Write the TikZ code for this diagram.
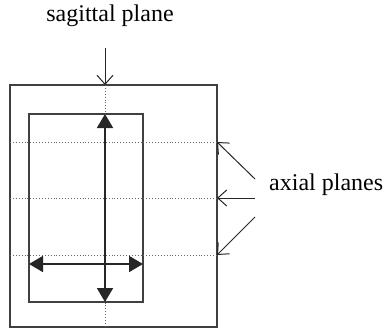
\documentclass[tikz,border=0pt]{standalone}
\usepackage{fontspec}
\setmainfont{Liberation Serif}
\usetikzlibrary{arrows.meta}
\begin{document}
\begin{tikzpicture}[x=1pt,y=-1pt,
  frame/.style={draw=black!75,line width=1.3pt},
  plane/.style={draw=black!60,line width=0.9pt,dotted},
  dbl/.style={draw=black!85,line width=1.8pt,{Triangle[length=14pt,width=16pt]}-{Triangle[length=14pt,width=16pt]}},
  pointer/.style={draw=black!85,line width=1pt,-{Straight Barb[length=9pt,width=16pt]}},
  lbl/.style={font=\fontsize{24}{28}\selectfont,inner sep=0pt}]
\useasboundingbox (0,0) rectangle (390,329);
% outer and inner frames
\draw[frame] (10,85) rectangle (217,327);
\draw[frame] (29,114) rectangle (143,302);
% planes
\coordinate (sT) at (105,85);
\coordinate (sB) at (105,327);
\draw[plane] (sT) -- (sB);
\coordinate (a1L) at (10,142); \coordinate (a1R) at (217,142);
\coordinate (a2L) at (10,198); \coordinate (a2R) at (217,198);
\coordinate (a3L) at (10,255); \coordinate (a3R) at (217,255);
\draw[plane] (a1L) -- (a1R);
\draw[plane] (a2L) -- (a2R);
\draw[plane] (a3L) -- (a3R);
% double arrows
\coordinate (vT) at (105,114); \coordinate (vB) at (105,302);
\draw[dbl] (vT) -- (vB);
\coordinate (hL) at (29,264); \coordinate (hR) at (143,264);
\draw[dbl] (hL) -- (hR);
% labels
\node[lbl] (sag) at (110,16) {sagittal plane};
\node[lbl,anchor=west] (ax) at (269,185) {axial planes};
% pointers
\coordinate (sS) at (105,48);
\draw[pointer] (sS) -- (sT);
\coordinate (p1) at (255,179);
\coordinate (p2) at (255,198);
\coordinate (p3) at (255,217);
\draw[pointer] (p1) -- (a1R);
\draw[pointer] (p2) -- (a2R);
\draw[pointer] (p3) -- (a3R);
\end{tikzpicture}
\end{document}
